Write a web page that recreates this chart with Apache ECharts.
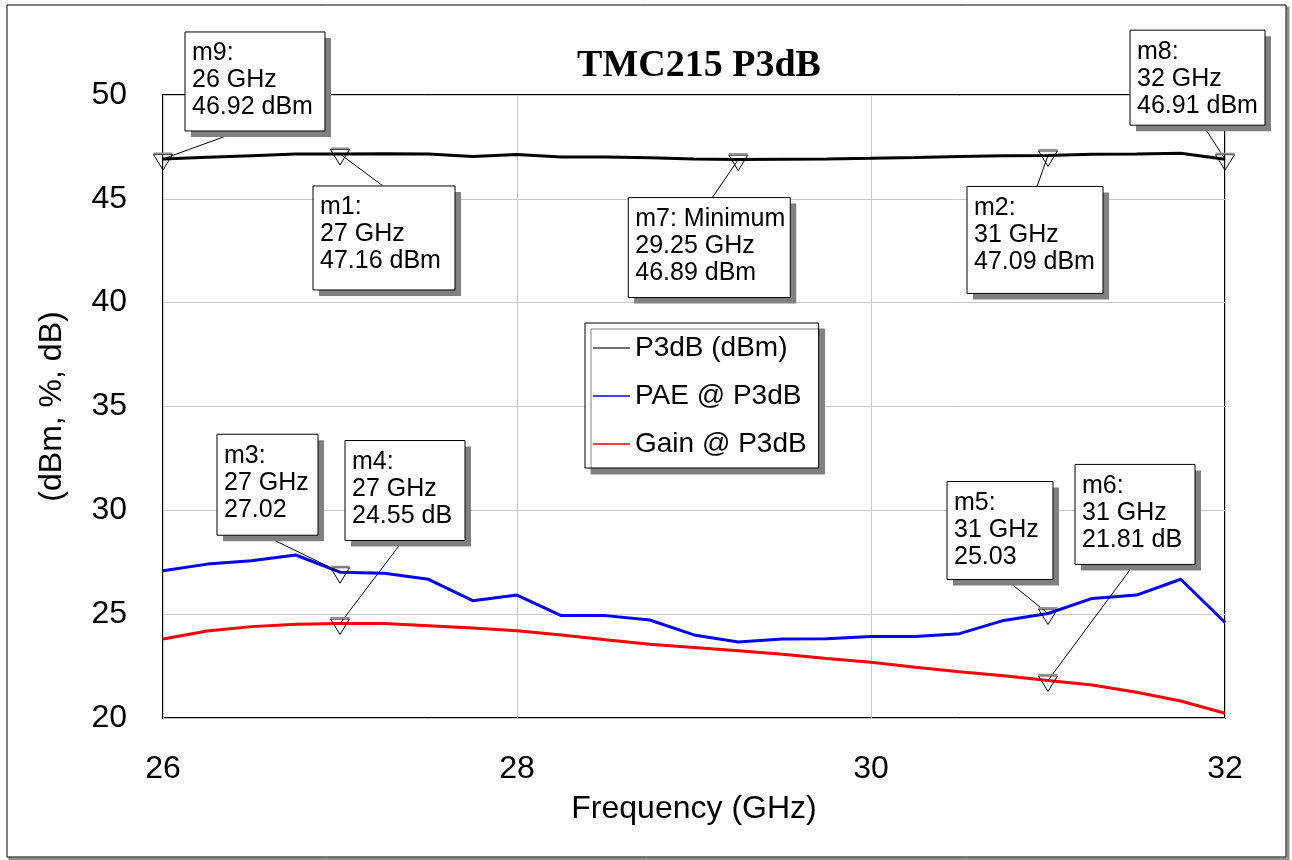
<!DOCTYPE html>
<html>
<head>
<meta charset="utf-8">
<script src="https://cdn.jsdelivr.net/npm/echarts@6/dist/echarts.min.js"></script>
<style>
html,body{margin:0;padding:0;background:#fff;}
#chart{width:1292px;height:860px;}
</style>
</head>
<body>
<div id="chart"></div>
<script>
// ---------------- data ----------------
const freq = [26, 26.25, 26.5, 26.75, 27, 27.25, 27.5, 27.75, 28, 28.25, 28.5, 28.75, 29,
              29.25, 29.5, 29.75, 30, 30.25, 30.5, 30.75, 31, 31.25, 31.5, 31.75, 32];
const p3db = [46.92, 47.00, 47.08, 47.16, 47.16, 47.17, 47.16, 47.04, 47.13, 47.01, 47.01, 46.98, 46.92,
              46.89, 46.91, 46.92, 46.95, 46.99, 47.04, 47.07, 47.09, 47.15, 47.16, 47.19, 46.91];
const pae  = [27.09, 27.41, 27.57, 27.85, 27.02, 26.97, 26.68, 25.65, 25.92, 24.93, 24.93, 24.72, 24.00,
              23.66, 23.80, 23.82, 23.93, 23.92, 24.06, 24.70, 25.03, 25.76, 25.92, 26.68, 24.60];
const gain = [23.80, 24.19, 24.40, 24.51, 24.55, 24.55, 24.44, 24.33, 24.20, 24.00, 23.77, 23.55, 23.40,
              23.24, 23.07, 22.87, 22.68, 22.44, 22.23, 22.04, 21.81, 21.59, 21.24, 20.82, 20.23];
const seriesNames = ['P3dB (dBm)', 'PAE @ P3dB', 'Gain @ P3dB'];
const xTicks = [26, 28, 30, 32];
const yTicks = [20, 25, 30, 35, 40, 45, 50];

// markers
const markerNames  = ['m9', 'm1', 'm7', 'm2', 'm8', 'm3', 'm4', 'm5', 'm6'];
const markerSuffix = ['', '', ' Minimum', '', '', '', '', '', ''];
const markerFreqs  = [26, 27, 29.25, 31, 32, 27, 27, 31, 31];
const markerValues = [46.92, 47.16, 46.89, 47.09, 46.91, 27.02, 24.55, 25.03, 21.81];
const markerUnits  = [' dBm', ' dBm', ' dBm', ' dBm', ' dBm', '', ' dB', '', ' dB'];

// annotation box layout (pixel offsets from marker): dx, dy, w, h, leader anchor x in box, anchor at bottom?
const boxLayout = [
  [22, -127, 140, 99, 55, 1],
  [-27, 32, 142, 104, 70, 0],
  [-110, 38, 162, 100, 84, 0],
  [-81, 31, 136, 107, 70, 0],
  [-95, -129, 135, 95, 73, 1],
  [-123, -138, 101, 101, 47, 1],
  [5, -183, 120, 100, 58, 1],
  [-101, -132, 106, 98, 59, 1],
  [27, -216, 120, 100, 59, 1]
];

const FONT = '"Liberation Sans", Arial, sans-serif';

const chart = echarts.init(document.getElementById('chart'), null, {renderer: 'canvas'});

function zip(xs, ys) { return xs.map((x, i) => [x, ys[i]]); }

const markerData = markerFreqs.map((f, i) => [f, markerValues[i], i]);

function renderMarker(params, api) {
  const i = api.value(2);
  const p = api.coord([api.value(0), api.value(1)]);
  const L = boxLayout[i];
  const bx = p[0] + L[0], by = p[1] + L[1], bw = L[2], bh = L[3];
  const ax = bx + L[4], ay = L[5] ? by + bh : by;
  const lines = [
    markerNames[i] + ':' + markerSuffix[i],
    markerFreqs[i] + ' GHz',
    markerValues[i].toFixed(2) + markerUnits[i]
  ];
  return {
    type: 'group',
    children: [
      {type: 'line', shape: {x1: ax, y1: ay, x2: p[0], y2: p[1]}, style: {stroke: '#000', lineWidth: 1}, z2: 1},
      {type: 'polygon', shape: {points: [[p[0] - 9.5, p[1] - 4.5], [p[0] + 9.5, p[1] - 4.5], [p[0], p[1] + 11]]},
        style: {fill: 'rgba(0,0,0,0)', stroke: '#000', lineWidth: 1}, z2: 2},
      {type: 'line', shape: {x1: p[0] - 9.5, y1: p[1] - 5.5, x2: p[0] + 9.5, y2: p[1] - 5.5},
        style: {stroke: '#909090', lineWidth: 2}, z2: 2},
      {type: 'rect', shape: {x: bx + 6, y: by + 6, width: bw, height: bh}, style: {fill: '#808080'}, z2: 3},
      {type: 'rect', shape: {x: bx, y: by, width: bw, height: bh}, style: {fill: '#fff', stroke: '#000', lineWidth: 1}, z2: 4},
      {type: 'text', style: {text: lines.join('\n'), x: bx + 7, y: by + 8, fill: '#000',
        font: '25px ' + FONT, lineHeight: 27, textAlign: 'left', textVerticalAlign: 'top'}, z2: 5}
    ]
  };
}

const option = {
  backgroundColor: '#fff',
  animation: false,
  title: {
    text: 'TMC215 P3dB',
    left: 694, top: 42, textAlign: 'center',
    textStyle: {fontFamily: '"Liberation Serif", "Times New Roman", serif', fontWeight: 'bold', fontSize: 38, color: '#000'}
  },
  grid: {left: 163, right: 67, top: 95, bottom: 142, show: true, borderColor: '#000', borderWidth: 2, backgroundColor: 'transparent'},
  xAxis: {
    type: 'value', min: xTicks[0], max: xTicks[xTicks.length - 1], interval: 2,
    name: 'Frequency (GHz)', nameLocation: 'middle', nameGap: 75,
    nameTextStyle: {fontFamily: FONT, fontSize: 32, color: '#000'},
    axisLine: {show: false}, axisTick: {show: false},
    axisLabel: {margin: 35, fontFamily: FONT, fontSize: 32, color: '#000'},
    splitLine: {show: true, lineStyle: {color: '#c8c8c8', width: 1}}
  },
  yAxis: {
    type: 'value', min: yTicks[0], max: yTicks[yTicks.length - 1], interval: 5,
    name: '(dBm, %, dB)', nameLocation: 'middle', nameGap: 95,
    nameTextStyle: {fontFamily: FONT, fontSize: 32, color: '#000'},
    axisLine: {show: false}, axisTick: {show: false},
    axisLabel: {margin: 36, fontFamily: FONT, fontSize: 32, color: '#000'},
    splitLine: {show: true, lineStyle: {color: '#c8c8c8', width: 1}}
  },
  legend: {
    orient: 'vertical', left: 585, top: 323,
    data: seriesNames.map(n => ({name: n, icon: 'rect'})),
    backgroundColor: '#fff', borderColor: '#000', borderWidth: 1,
    shadowColor: '#808080', shadowOffsetX: 6, shadowOffsetY: 6, shadowBlur: 0,
    padding: [11, 12, 10, 8],
    itemWidth: 37, itemHeight: 1.5, itemGap: 20,
    textStyle: {fontFamily: FONT, fontSize: 28, color: '#000', lineHeight: 28}
  },
  series: [
    {name: seriesNames[0], type: 'line', data: zip(freq, p3db), showSymbol: false, symbol: 'none',
      lineStyle: {color: '#000', width: 3}, itemStyle: {color: '#404040'}, z: 3},
    {name: seriesNames[1], type: 'line', data: zip(freq, pae), showSymbol: false, symbol: 'none',
      lineStyle: {color: '#0000ff', width: 3}, itemStyle: {color: '#0000ff'}, z: 3},
    {name: seriesNames[2], type: 'line', data: zip(freq, gain), showSymbol: false, symbol: 'none',
      lineStyle: {color: '#ff0000', width: 3}, itemStyle: {color: '#ff0000'}, z: 3},
    {type: 'custom', data: markerData, renderItem: renderMarker, encode: {x: 0, y: 1},
      clip: false, silent: true, z: 10}
  ],
  graphic: [
    {type: 'rect', shape: {x: 10, y: 8, width: 1278, height: 851}, style: {fill: 'none', stroke: '#909090', lineWidth: 3}, z: -10, silent: true},
    {type: 'rect', shape: {x: 7, y: 5, width: 1279, height: 852}, style: {fill: '#fff', stroke: '#000', lineWidth: 1}, z: -9, silent: true}
  ]
};
chart.setOption(option);
</script>
</body>
</html>
